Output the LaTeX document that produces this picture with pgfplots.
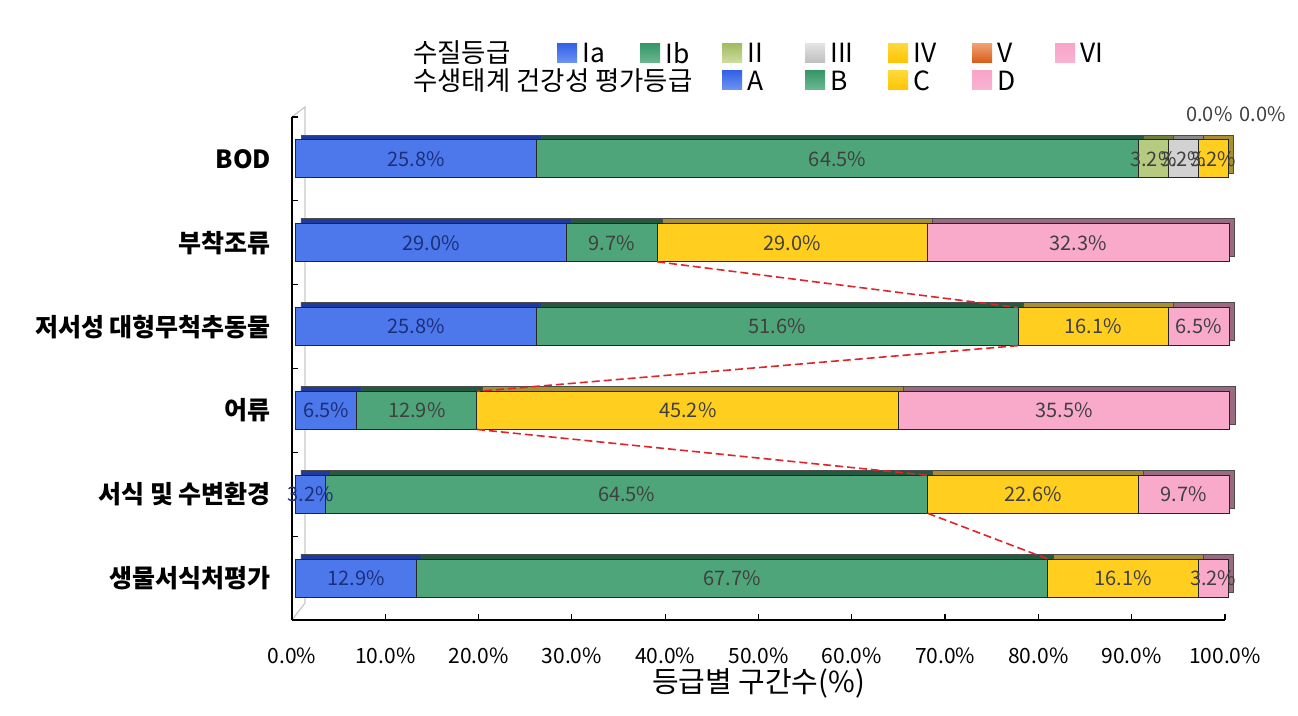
\documentclass[border=0pt]{standalone}
\usepackage{pgfplots}
\pgfplotsset{compat=1.18}
\usepackage{fontspec}
\setmainfont{Noto Sans CJK KR}

\definecolor{blueT}{HTML}{3462E6}
\definecolor{blueB}{HTML}{6E94F2}
\definecolor{blueF}{HTML}{4C78EC}
\definecolor{blueD}{HTML}{1E3A9A}
\definecolor{greenT}{HTML}{379766}
\definecolor{greenB}{HTML}{6DB892}
\definecolor{greenF}{HTML}{4EA57A}
\definecolor{greenD}{HTML}{23593F}
\definecolor{oliveT}{HTML}{A3BC62}
\definecolor{oliveB}{HTML}{CFDDA0}
\definecolor{oliveF}{HTML}{B6CB80}
\definecolor{oliveD}{HTML}{6E7E40}
\definecolor{greyT}{HTML}{BDBDBD}
\definecolor{greyB}{HTML}{E3E3E3}
\definecolor{greyF}{HTML}{D2D2D2}
\definecolor{greyD}{HTML}{8A8A8A}
\definecolor{yellowT}{HTML}{FFD83A}
\definecolor{yellowB}{HTML}{FFC400}
\definecolor{yellowF}{HTML}{FFCE1E}
\definecolor{yellowD}{HTML}{A8902E}
\definecolor{orangeT}{HTML}{F0A070}
\definecolor{orangeB}{HTML}{D85A18}
\definecolor{pinkT}{HTML}{F9A4C8}
\definecolor{pinkB}{HTML}{F9B4D2}
\definecolor{pinkF}{HTML}{F9AACB}
\definecolor{pinkD}{HTML}{9A6A80}
\definecolor{navy}{HTML}{1C2F7A}
\definecolor{redline}{HTML}{E0242A}

\pgfplotsset{
  base/.style={at={(0,0)}, anchor=south west, scale only axis,
    width=466.5pt, height=251.5pt, xmin=0, xmax=100, ymin=-0.5, ymax=5.5,
    y dir=reverse, clip=false},
  stk/.style={base, hide axis, xbar stacked, bar width=19pt},
  bk/.style={xshift=4.5pt, yshift=2.5pt, fill=#1, draw=black!70, line width=0.4pt},
  fr/.style={xshift=2pt, fill=#1, draw=black!85, line width=0.5pt},
  lab/.style={draw=none, mark=none, xshift=2pt, nodes near coords={\pgfplotspointmeta\%},
    point meta=explicit symbolic,
    every node near coord/.append style={font=\fontsize{10}{12}\selectfont, text=#1, anchor=center, inner sep=0pt}},
}

\begin{document}
\begin{tikzpicture}
\useasboundingbox (-146pt,-48pt) rectangle (503pt,310pt);

% back wall
\begin{scope}[shift={(-146pt,310pt)}, x=0.5pt, y=-0.5pt]
\draw[black!22, line width=0.6pt] (292,117) -- (305,107) -- (305,603) -- (292,620);
\end{scope}

% depth layer (others)
\begin{axis}[stk]
\addplot[bk=blueD] coordinates {(29.0,1) (25.8,2) (6.5,3) (3.2,4) (12.9,5)};
\addplot[bk=greenD] coordinates {(9.7,1) (51.6,2) (12.9,3) (64.5,4) (67.7,5)};
\addplot[bk=yellowD] coordinates {(29.0,1) (16.1,2) (45.2,3) (22.6,4) (16.1,5)};
\addplot[bk=pinkD] coordinates {(32.3,1) (6.5,2) (35.5,3) (9.7,4) (3.2,5)};
\end{axis}
% depth layer (BOD)
\begin{axis}[stk]
\addplot[bk=blueD] coordinates {(25.8,0)};
\addplot[bk=greenD] coordinates {(64.5,0)};
\addplot[bk=oliveD] coordinates {(3.2,0)};
\addplot[bk=greyD] coordinates {(3.2,0)};
\addplot[bk=yellowD] coordinates {(3.2,0)};
\end{axis}
% front layer (others)
\begin{axis}[stk]
\addplot[fr=blueF] coordinates {(29.0,1) (25.8,2) (6.5,3) (3.2,4) (12.9,5)};
\addplot[fr=greenF] coordinates {(9.7,1) (51.6,2) (12.9,3) (64.5,4) (67.7,5)};
\addplot[fr=yellowF] coordinates {(29.0,1) (16.1,2) (45.2,3) (22.6,4) (16.1,5)};
\addplot[fr=pinkF] coordinates {(32.3,1) (6.5,2) (35.5,3) (9.7,4) (3.2,5)};
\end{axis}
% front layer (BOD)
\begin{axis}[stk]
\addplot[fr=blueF] coordinates {(25.8,0)};
\addplot[fr=greenF] coordinates {(64.5,0)};
\addplot[fr=oliveF] coordinates {(3.2,0)};
\addplot[fr=greyF] coordinates {(3.2,0)};
\addplot[fr=yellowF] coordinates {(3.2,0)};
\end{axis}

% main axis: lines, ticks, labels
\begin{axis}[base,
  axis x line*=bottom, axis y line*=left,
  axis line style={black, line width=0.6pt},
  /pgf/number format/assume math mode=true,
  xtick={0,10,...,100},
  xticklabel={\pgfmathprintnumber[fixed,fixed zerofill,precision=1]{\tick}\%},
  xticklabel style={font=\fontsize{10.5}{12}\selectfont, yshift=-10.5pt},
  ytick={-0.5,0.5,...,5.5}, yticklabels={,,,,,,,},
  tick align=inside, major tick length=3pt,
  tick style={black, line width=0.6pt},
  extra y ticks={0,1,2,3,4,5},
  extra y tick labels={BOD,부착조류,저서성 대형무척추동물,어류,서식 및 수변환경,생물서식처평가},
  extra y tick style={major tick length=0pt,
    yticklabel style={font=\bfseries\fontsize{12.5}{14}\selectfont, xshift=-7pt}},
  xlabel={등급별 구간수(\%)},
  xlabel style={font=\fontsize{14.5}{16}\selectfont, at={(axis description cs:0.5,-0.125)}, anchor=center},
]
% series lines
\addplot[redline, dash pattern=on 4pt off 2pt, line width=0.8pt, xshift=2pt] coordinates {(38.7,1.227) (77.4,1.773)};
\addplot[redline, dash pattern=on 4pt off 2pt, line width=0.8pt, xshift=2pt] coordinates {(77.4,2.227) (19.4,2.773)};
\addplot[redline, dash pattern=on 4pt off 2pt, line width=0.8pt, xshift=2pt] coordinates {(19.4,3.227) (67.7,3.773)};
\addplot[redline, dash pattern=on 4pt off 2pt, line width=0.8pt, xshift=2pt] coordinates {(67.7,4.227) (80.6,4.773)};
% data labels
\addplot[lab=navy] coordinates {(12.9,0)[25.8] (14.5,1)[29.0] (12.9,2)[25.8] (3.25,3)[6.5] (1.6,4)[3.2] (6.45,5)[12.9]};
\addplot[lab=black!75] coordinates {
 (58.05,0)[64.5] (91.9,0)[3.2] (95.1,0)[3.2] (98.3,0)[3.2] (97.9,-0.53)[0.0] (103.6,-0.53)[0.0]
 (33.85,1)[9.7] (53.2,1)[29.0] (83.85,1)[32.3]
 (51.6,2)[51.6] (85.45,2)[16.1] (96.75,2)[6.5]
 (12.95,3)[12.9] (42.0,3)[45.2] (82.35,3)[35.5]
 (35.45,4)[64.5] (79.0,4)[22.6] (95.15,4)[9.7]
 (46.75,5)[67.7] (88.65,5)[16.1] (98.3,5)[3.2]};
\end{axis}

% legend
\begin{scope}[shift={(-146pt,310pt)}, x=0.5pt, y=-0.5pt, every node/.style={anchor=west, inner sep=0pt, font=\fontsize{13.2}{15}\selectfont}]
\node at (413,53) {수질등급};
\node at (413,81) {수생태계 건강성 평가등급};
\shade[top color=blueT, bottom color=blueB] (557,44) rectangle (577,63); \node at (582,53) {Ia};
\shade[top color=greenT, bottom color=greenB] (640,44) rectangle (660,63); \node at (665,53) {Ib};
\shade[top color=oliveT, bottom color=oliveB] (722,44) rectangle (742,63); \node at (747,53) {II};
\shade[top color=greyB, bottom color=greyT] (805,44) rectangle (825,63); \node at (830,53) {III};
\shade[top color=yellowT, bottom color=yellowB] (888,44) rectangle (908,63); \node at (913,53) {IV};
\shade[top color=orangeT, bottom color=orangeB] (972,44) rectangle (992,63); \node at (997,53) {V};
\shade[top color=pinkT, bottom color=pinkB] (1055,44) rectangle (1075,63); \node at (1080,53) {VI};
\shade[top color=blueT, bottom color=blueB] (722,71) rectangle (742,90); \node at (747,81) {A};
\shade[top color=greenT, bottom color=greenB] (805,71) rectangle (825,90); \node at (830,81) {B};
\shade[top color=yellowT, bottom color=yellowB] (888,71) rectangle (908,90); \node at (913,81) {C};
\shade[top color=pinkT, bottom color=pinkB] (972,71) rectangle (992,90); \node at (997,81) {D};
\end{scope}
\end{tikzpicture}
\end{document}
